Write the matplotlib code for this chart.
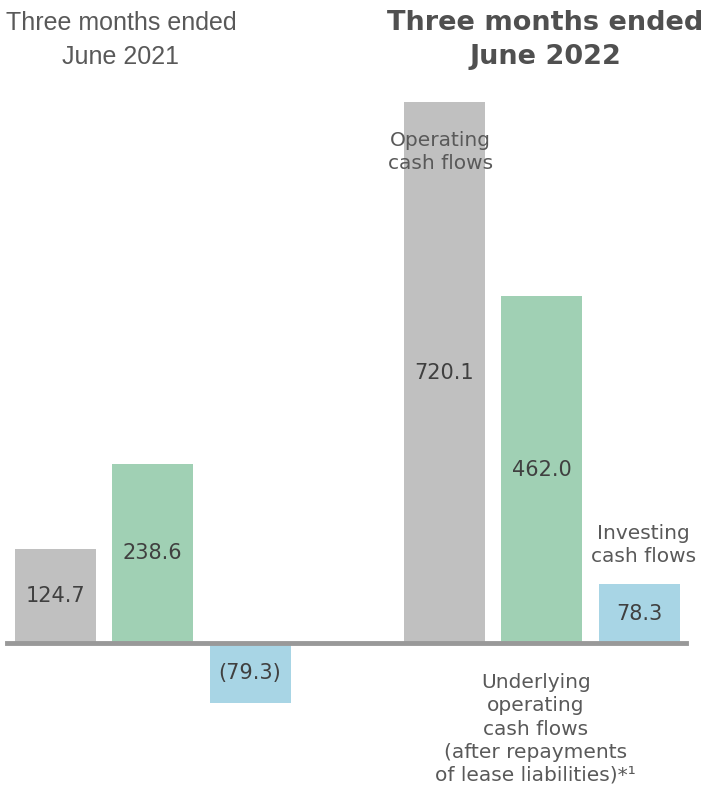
import numpy as np
import matplotlib.pyplot as plt

# values in billions of yen
periods = ['Three months ended\nJune 2021', 'Three months ended\nJune 2022']
series = ['Operating\ncash flows',
          'Underlying\noperating\ncash flows\n(after repayments\nof lease liabilities)*\u00b9',
          'Investing\ncash flows']
vals_2021 = [124.7, 238.6, -79.3]
vals_2022 = [720.1, 462.0, 78.3]
colors = ['#c0c0c0', '#a0d0b4', '#a8d5e5']

def fmt(v):
    if v < 0:
        return f'({abs(v):.1f})'
    return f'{v:.1f}'

fig = plt.figure(figsize=(7.08, 7.9), dpi=100)
ax = fig.add_axes([0, 0, 1, 1])
ax.set_xlim(0, 708)
ax.set_ylim(-195.7, 856.2)
ax.axis('off')

txtc = '#404040'
group_x = [55.5, 444.5]
step = 97.3
width = 81

for g, vals in enumerate([vals_2021, vals_2022]):
    xs = group_x[g] + step * np.arange(len(vals))
    ax.bar(xs, vals, width=width, color=colors, zorder=2)
    for x, v in zip(xs, vals):
        ax.text(x, v / 2, fmt(v), ha='center', va='center', fontsize=15,
                color=txtc, zorder=3)

ax.axhline(0, xmin=7 / 708, xmax=686 / 708, color='#999999', lw=3.5, zorder=4)

# period titles
ax.text(121, 856.2 - 40 / 0.751, periods[0], ha='center', va='center',
        fontsize=18, color='#595959', linespacing=1.5,
        family=['Liberation Sans', 'DejaVu Sans'])
ax.text(545, 856.2 - 40 / 0.751, periods[1], ha='center', va='center',
        fontsize=19.5, color='#505050', fontweight='bold', linespacing=1.4)

# series labels on the 2022 group
xs2 = group_x[1] + step * np.arange(3)
lc = '#595959'
ax.text(xs2[0] - 4, 856.2 - 152 / 0.751, series[0], ha='center', va='center',
        fontsize=14.5, color=lc, linespacing=1.25)
ax.text(xs2[2] + 4, 856.2 - 545 / 0.751, series[2], ha='center', va='center',
        fontsize=14.5, color=lc, linespacing=1.25)
ax.text(xs2[1] - 6, 856.2 - 729 / 0.751, series[1], ha='center', va='center',
        fontsize=14.5, color=lc, linespacing=1.27)

fig.savefig('out.png', dpi=100)
